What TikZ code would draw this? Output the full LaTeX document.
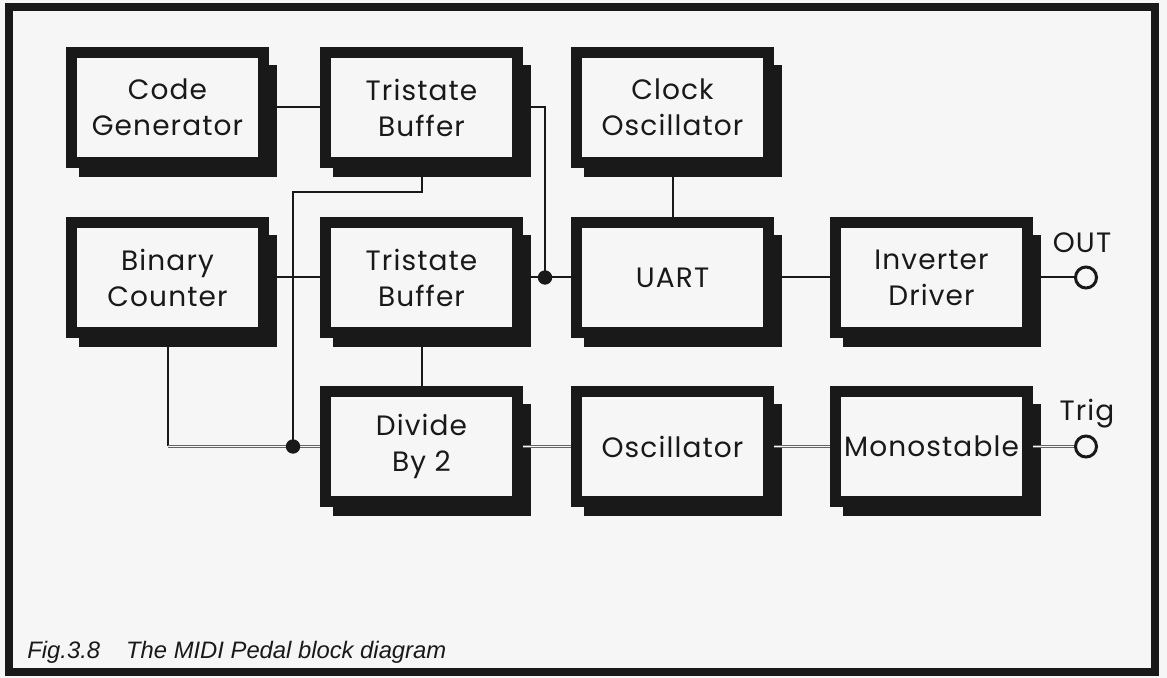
\documentclass[tikz,border=0pt]{standalone}
\usepackage{fontspec}
\setmainfont{Liberation Sans}
\newfontfamily\boxfont{Poppins}[LetterSpace=4]
\usetikzlibrary{calc}
\definecolor{bg}{gray}{0.965}
\definecolor{ink}{gray}{0.1}
\pgfdeclarelayer{back}
\pgfdeclarelayer{shade}
\pgfsetlayers{back,shade,main}
\begin{document}
\begin{tikzpicture}[x=0.5pt,y=-0.5pt,
  blk/.style={draw=ink, fill=bg, line width=5.5pt, minimum width=96pt, minimum height=55pt, inner sep=0pt, align=center, font=\boxfont\fontsize{14}{18}\selectfont, text=ink},
  wire/.style={draw=ink, line width=1pt},
  dbl/.style={draw=black!60, double=bg, double distance=0.7pt, line width=0.45pt},
  dot/.style={circle, fill=ink, inner sep=0pt, minimum size=7.2pt},
  term/.style={circle, draw=ink, fill=bg, line width=1.5pt, inner sep=0pt, minimum size=10.5pt},
  lbl/.style={font=\boxfont\fontsize{14}{18}\selectfont, text=ink, inner sep=0pt, anchor=base}]
\useasboundingbox (0,0) rectangle (1167,678);
\begin{pgfonlayer}{back}
\fill[bg] (0,0) rectangle (1167,678);
\end{pgfonlayer}
\draw[ink, line width=4pt] (9,7.5) rectangle (1154.5,672);
% blocks
\node[blk] (cg)   at (167.5,107.5) {Code\\Generator};
\node[blk] (tb1)  at (421.5,107.5) {Tristate\\Buffer};
\node[blk] (clk)  at (672.5,107.5) {Clock\\Oscillator};
\node[blk] (bc)   at (167.5,277.5) {Binary\\Counter};
\node[blk] (tb2)  at (421.5,277.5) {Tristate\\Buffer};
\node[blk] (uart) at (672.5,277.5) {UART};
\node[blk] (inv)  at (931.5,277.5) {Inverter\\Driver};
\node[blk] (div)  at (421.5,446.5) {Divide\\By 2};
\node[blk] (osc)  at (672.5,446.5) {Oscillator};
\node[blk] (mono) at (931.5,446.5) {Monostable};
\begin{pgfonlayer}{shade}
\foreach \n in {cg,tb1,clk,bc,tb2,uart,inv,div,osc,mono}
  \fill[ink] ($(\n.north west)+(6.5pt,-9pt)$) rectangle ($(\n.south east)+(4pt,-4.5pt)$);
\end{pgfonlayer}
% terminals
\node[term] (out)  at (1086,277.5) {};
\node[term] (trig) at (1086,446.5) {};
\node[lbl] (outl)  at (1082,253) {OUT};
\node[lbl] (trigl) at (1087,421) {Trig};
% junctions
\coordinate (j1) at (545,277.5);
\coordinate (j2) at (293,446.5);
\coordinate (k) at (293,192);
\coordinate (c) at (bc.south |- j2);
% wires
\draw[wire] (cg) -- (tb1);
\draw[wire] (tb1.east) -| (j1);
\draw[wire] (tb2.east) -- (uart.west);
\draw[wire] (clk.south) -- (uart.north);
\draw[wire] (uart) -- (inv);
\draw[wire] (inv) -- (out);
\draw[wire] (bc) -- (tb2);
\draw[wire] (tb1.south) |- (k) -- (j2);
\draw[wire] (bc.south) -- (c);
\draw[wire] (tb2) -- (div);
\draw[dbl] (c) -- (j2) -- (div.west);
\draw[dbl] (div) -- (osc);
\draw[dbl] (osc) -- (mono);
\draw[dbl] (mono) -- (trig);
\node[dot] (d1) at (j1) {};
\node[dot] (d2) at (j2) {};
% caption
\node[anchor=base west, inner sep=0pt, font=\itshape\fontsize{11.9}{14}\selectfont, text=ink] (cap) at (27,658) {Fig.3.8\hspace{13pt}The MIDI Pedal block diagram};
\end{tikzpicture}
\end{document}
